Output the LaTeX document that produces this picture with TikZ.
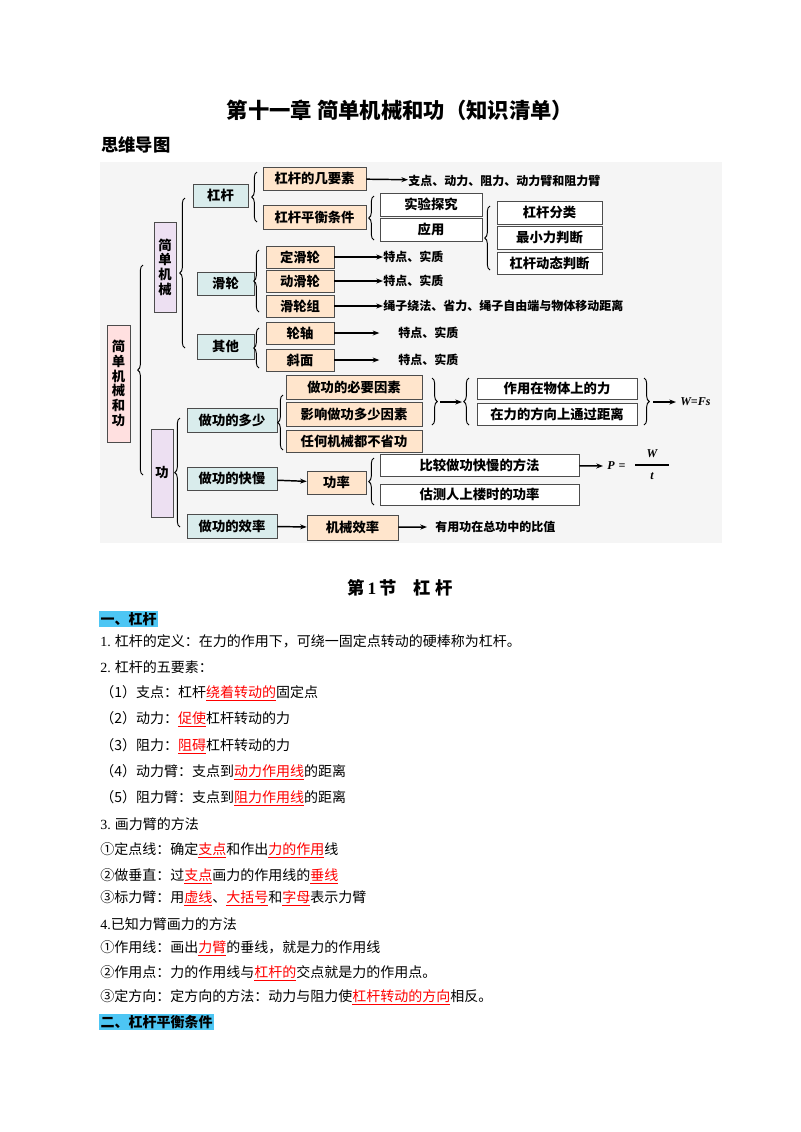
\documentclass[tikz,border=0pt]{standalone}
\usepackage{fontspec}
\setmainfont{Noto Sans CJK SC}
\newfontfamily\lat{Liberation Serif}
\usetikzlibrary{decorations.pathreplacing,arrows.meta}
\newcommand{\rd}[1]{{\color{red}\underline{#1}}}
\newcommand{\bx}[7]{\node[#6,minimum width={(#4-#2)*0.75pt},minimum height={(#5-#3)*0.75pt}] (#1) at ({(#2+#4)/2},{(#3+#5)/2}) {#7};}
\begin{document}
\begin{tikzpicture}[x=0.75pt,y=-0.75pt,
 b/.style={draw=black!70,inner sep=0pt,font=\bfseries\fontsize{10}{11}\selectfont},
 pk/.style={b,fill=red!12},
 lv/.style={b,fill=blue!15!violet!12},
 tl/.style={b,fill=teal!15},
 pe/.style={b,fill=orange!20},
 wh/.style={b,fill=white},
 ar/.style={-{Stealth[length=5pt]},line width=1.1pt},
 br/.style={decorate,decoration={brace,amplitude=4pt},line width=0.7pt},
 tx/.style={anchor=west,inner sep=0pt,font=\bfseries\fontsize{9}{10}\selectfont},
 it/.style={inner sep=0pt,font=\lat\itshape\bfseries\fontsize{9}{10}\selectfont},
 ln/.style={anchor=west,inner sep=0pt,font=\fontsize{10.5}{12}\selectfont}]
\useasboundingbox (0,0) rectangle (800,1132);
\fill[white] (0,0) rectangle (800,1132);
\node[font=\bfseries\fontsize{16}{18}\selectfont] (title) at (400,110) {第十一章\ 简单机械和功（知识清单）};
\node[anchor=west,inner sep=0pt,font=\bfseries\fontsize{13}{15}\selectfont] (swdt) at (101,145) {思维导图};
\fill[gray!8] (100,162) rectangle (722,543);
% boxes
\bx{root}{107}{325}{130}{442}{pk,align=center}{简\\单\\机\\械\\和\\功}
\bx{jd}{154}{222}{176}{312}{lv,align=center}{简\\单\\机\\械}
\bx{gong}{151}{429}{173}{517}{lv}{功}
\bx{gg}{193}{184}{248}{207}{tl}{杠杆}
\bx{hl}{197}{272}{254}{295}{tl}{滑轮}
\bx{qt}{197}{334}{254}{359}{tl}{其他}
\bx{jys}{263}{167}{366}{190}{pe}{杠杆的几要素}
\bx{phtj}{263}{205}{366}{229}{pe}{杠杆平衡条件}
\bx{sy}{380}{193}{482}{216}{wh}{实验探究}
\bx{yy}{380}{218}{482}{241}{wh}{应用}
\bx{fl}{497}{201}{602}{224}{wh}{杠杆分类}
\bx{zx}{497}{226}{602}{249}{wh}{最小力判断}
\bx{dt}{497}{252}{602}{274}{wh}{杠杆动态判断}
\bx{dhl}{266}{246}{334}{268}{pe}{定滑轮}
\bx{dhl2}{266}{270}{334}{292}{pe}{动滑轮}
\bx{hlz}{266}{295}{334}{317}{pe}{滑轮组}
\bx{lz}{266}{322}{334}{344}{pe}{轮轴}
\bx{xm}{266}{349}{334}{371}{pe}{斜面}
\bx{bys}{286}{375}{422}{399}{pe}{做功的必要因素}
\bx{yx}{286}{402}{422}{426}{pe}{影响做功多少因素}
\bx{rh}{286}{430}{422}{452}{pe}{任何机械都不省功}
\bx{dsh}{187}{408}{277}{432}{tl}{做功的多少}
\bx{zy}{477}{378}{637}{399}{wh}{作用在物体上的力}
\bx{jl}{477}{403}{637}{425}{wh}{在力的方向上通过距离}
\bx{km}{187}{467}{277}{490}{tl}{做功的快慢}
\bx{gl}{307}{471}{366}{494}{pe}{功率}
\bx{bj}{380}{454}{579}{476}{wh}{比较做功快慢的方法}
\bx{gc}{380}{484}{579}{505}{wh}{估测人上楼时的功率}
\bx{xl}{187}{514}{277}{538}{tl}{做功的效率}
\bx{jx}{307}{515}{398}{540}{pe}{机械效率}
% texts
\node[tx] (t0) at (408,181) {支点、动力、阻力、动力臂和阻力臂};
\node[tx] (t1) at (383,257) {特点、实质};
\node[tx] (t2) at (383,281) {特点、实质};
\node[tx] (t3) at (383,306) {绳子绕法、省力、绳子自由端与物体移动距离};
\node[tx] (t4) at (398,333) {特点、实质};
\node[tx] (t5) at (398,360) {特点、实质};
\node[it,anchor=west] (wfs) at (680,402) {W=Fs};
\node[it,anchor=west] (pw) at (607,466) {P\,\,=};
\node[it] (pW) at (652,454) {W};
\node[it] (pt) at (652,476) {t};
\coordinate (f1) at (635,465); \coordinate (f2) at (669,465);
\draw[line width=0.8pt] (f1) -- (f2);
\node[tx] (t6) at (435,527) {有用功在总功中的比值};
% arrows
\draw[ar] (jys) -- (t0);
\draw[ar] (dhl) -- (t1);
\draw[ar] (dhl2) -- (t2);
\draw[ar] (hlz) -- (t3);
\draw[ar] (lz) -- ([xshift=-14pt]t4.west);
\draw[ar] (xm) -- ([xshift=-14pt]t5.west);
\coordinate (c1) at (440,402); \coordinate (c2) at (462,402);
\draw[ar] (c1) -- (c2);
\coordinate (c3) at (653,402);
\draw[ar] (c3) -- ([xshift=-3pt]wfs.west);
\draw[ar] (km) -- (gl);
\draw[ar] (bj) -- ([xshift=-3pt]pw.west);
\draw[ar] (xl) -- (jx);
\draw[ar] (jx) -- ([xshift=-6pt]t6.west);
% braces
\draw[br] (143,475) -- (143,265);
\draw[br] (185,348) -- (185,198);
\draw[br] (257,222) -- (257,172);
\draw[br] (374,240) -- (374,196);
\draw[br] (490,270) -- (490,206);
\draw[br] (259,312) -- (259,250);
\draw[br] (259,368) -- (259,328);
\draw[br] (180,527) -- (180,418);
\draw[br] (283,450) -- (283,395);
\draw[br] (432,378) -- (432,425);
\draw[br] (469,425) -- (469,378);
\draw[br] (644,378) -- (644,425);
\draw[br] (374,505) -- (374,458);
% section
\node[font=\bfseries\fontsize{13}{15}\selectfont] (sec) at (400,588) {第{\lat\bfseries\,1\,}节\quad 杠\ 杆};
\node[anchor=west,inner sep=1pt,fill=cyan!70,font=\bfseries\fontsize{10.5}{12}\selectfont] (h1) at (99,619) {一、杠杆};
\node[ln] (l1) at (100,641) {{\lat 1.} 杠杆的定义：在力的作用下，可绕一固定点转动的硬棒称为杠杆。};
\node[ln] (l2) at (100,667) {{\lat 2.} 杠杆的五要素：};
\node[ln] (l3) at (100,693) {（1）支点：杠杆\rd{绕着转动的}固定点};
\node[ln] (l4) at (100,719) {（2）动力：\rd{促使}杠杆转动的力};
\node[ln] (l5) at (100,746) {（3）阻力：\rd{阻碍}杠杆转动的力};
\node[ln] (l6) at (100,772) {（4）动力臂：支点到\rd{动力作用线}的距离};
\node[ln] (l7) at (100,798) {（5）阻力臂：支点到\rd{阻力作用线}的距离};
\node[ln] (l8) at (100,824) {{\lat 3.} 画力臂的方法};
\node[ln] (l9) at (100,850) {①定点线：确定\rd{支点}和作出\rd{力的作用}线};
\node[ln] (l10) at (100,876) {②做垂直：过\rd{支点}画力的作用线的\rd{垂线}};
\node[ln] (l11) at (100,898) {③标力臂：用\rd{虚线}、\rd{大括号}和\rd{字母}表示力臂};
\node[ln] (l12) at (100,924) {{\lat 4.}已知力臂画力的方法};
\node[ln] (l13) at (100,948) {①作用线：画出\rd{力臂}的垂线，就是力的作用线};
\node[ln] (l14) at (100,973) {②作用点：力的作用线与\rd{杠杆的}交点就是力的作用点。};
\node[ln] (l15) at (100,997) {③定方向：定方向的方法：动力与阻力使\rd{杠杆转动的方向}相反。};
\node[anchor=west,inner sep=1pt,fill=cyan!70,font=\bfseries\fontsize{10.5}{12}\selectfont] (h2) at (99,1022) {二、杠杆平衡条件};
\end{tikzpicture}
\end{document}
